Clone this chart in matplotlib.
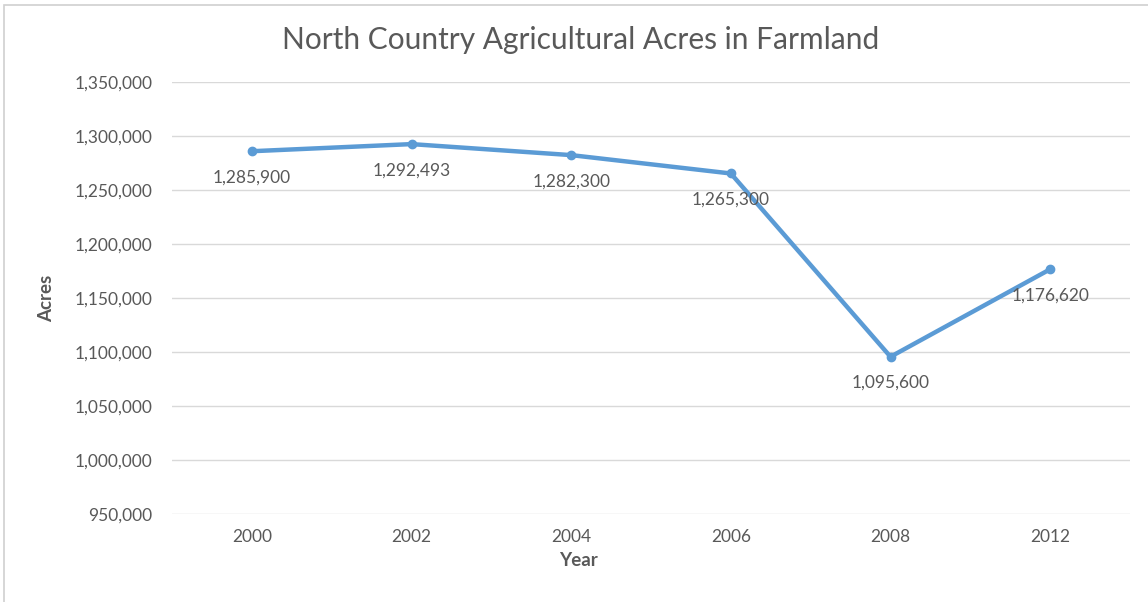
import matplotlib.pyplot as plt
from matplotlib.patches import Rectangle
from matplotlib.ticker import FuncFormatter

plt.rcParams["font.family"] = ["Lato", "DejaVu Sans"]

YEARS = ["2000", "2002", "2004", "2006", "2008", "2012"]
ACRES = [1285900, 1292493, 1282300, 1265300, 1095600, 1176620]
Y_TICKS = [950000, 1000000, 1050000, 1100000, 1150000, 1200000, 1250000, 1300000, 1350000]

TEXT = "#595959"
GRID = "#D9D9D9"
BLUE = "#5B9BD5"

W, H = 1148, 602
fig = plt.figure(figsize=(W / 100, H / 100), dpi=100)
# light frame around the chart area (right/bottom edges fall outside the image)
fig.patches.append(Rectangle((4 / W, -0.05), 1.1, 1 - 5 / H + 0.05, transform=fig.transFigure,
                             fill=False, edgecolor="#D0D0D0", linewidth=1.2))

ax = fig.add_axes([172 / W, 88 / H, (1130 - 172) / W, (514 - 82) / H])
x = list(range(len(YEARS)))
ax.plot(x, ACRES, color=BLUE, linewidth=3.2, marker="o", markersize=6, zorder=3,
        solid_capstyle="round", solid_joinstyle="round")

for xi, v in zip(x, ACRES):
    ax.annotate(f"{v:,}", (xi, v), xytext=(0, -13), textcoords="offset points",
                ha="center", va="top", fontsize=12.5, color=TEXT, zorder=4)

ax.set_xlim(-0.5, len(YEARS) - 0.5)
ax.set_ylim(950000, 1350000)
ax.set_xticks(x)
ax.set_xticklabels(YEARS)
ax.set_yticks(Y_TICKS)
ax.yaxis.set_major_formatter(FuncFormatter(lambda v, _: f"{int(v):,}"))
ax.tick_params(axis="both", length=0, labelsize=12.5, labelcolor=TEXT)
ax.tick_params(axis="y", pad=14)
ax.tick_params(axis="x", pad=11)
ax.grid(axis="y", color=GRID, linewidth=1)
ax.set_axisbelow(True)
for s in ax.spines.values():
    s.set_visible(False)

fig.text(578 / W, 1 - 560 / H, "Year", ha="center", va="center",
         fontsize=13.5, fontweight="bold", color=TEXT)
fig.text(47 / W, 1 - 298 / H, "Acres", ha="center", va="center", rotation=90,
         fontsize=13.5, fontweight="bold", color=TEXT)
fig.text(581 / W, 1 - 40 / H, "North Country Agricultural Acres in Farmland",
         ha="center", va="center", fontsize=21.5, color=TEXT)

fig.savefig("out.png", dpi=100)
